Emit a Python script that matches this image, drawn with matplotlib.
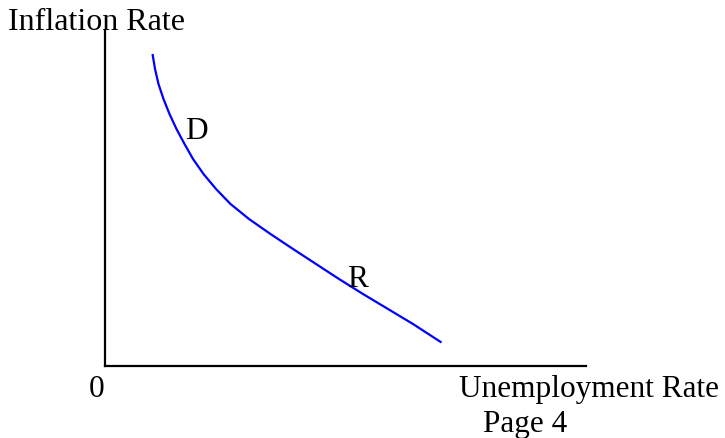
import matplotlib
matplotlib.use("Agg")
import matplotlib.pyplot as plt

# Curve data (unemployment, inflation) in arbitrary units
unemployment = [0.988, 1.040, 1.112, 1.216, 1.341, 1.486, 1.653, 1.830, 2.048, 2.308,
                2.609, 2.994, 3.441, 3.909, 4.387, 4.865, 5.364, 5.884, 6.403, 6.996]
inflation = [9.313, 8.866, 8.418, 7.970, 7.522, 7.075, 6.627, 6.179, 5.731, 5.284,
             4.836, 4.388, 3.940, 3.493, 3.045, 2.597, 2.149, 1.701, 1.254, 0.701]

point_labels = ["D", "R"]
point_x = [1.66, 5.03]
point_y = [6.81, 2.39]

W, H = 725, 439
fig = plt.figure(figsize=(W / 100, H / 100), dpi=100)
plt.rcParams['font.family'] = ['Liberation Serif', 'DejaVu Serif']

ax = fig.add_axes([105 / W, (H - 367) / H, (586 - 105) / W, (367 - 32) / H])
ax.set_xlim(0, 10)
ax.set_ylim(0, 10)
ax.plot(unemployment, inflation, color="#0000ff", lw=1.6,
        solid_capstyle="butt", solid_joinstyle="round")
for s in ["top", "right"]:
    ax.spines[s].set_visible(False)
for s in ["left", "bottom"]:
    ax.spines[s].set_linewidth(1.6)
    ax.spines[s].set_color("black")
ax.set_xticks([])
ax.set_yticks([])

fs = 22.5
for lab, x, y in zip(point_labels, point_x, point_y):
    ax.text(x, y, lab, fontsize=fs, ha="left", va="baseline")

fig.text(8 / W, (H - 30) / H, "Inflation Rate", fontsize=fs + 0.5, ha="left", va="baseline")
fig.text(97 / W, (H - 397) / H, "0", fontsize=fs, ha="center", va="baseline")
fig.text(459 / W, (H - 397) / H, "Unemployment Rate", fontsize=fs, ha="left", va="baseline")
fig.text(483 / W, (H - 432) / H, "Page 4", fontsize=fs, ha="left", va="baseline")

fig.savefig("out.png", dpi=100)
